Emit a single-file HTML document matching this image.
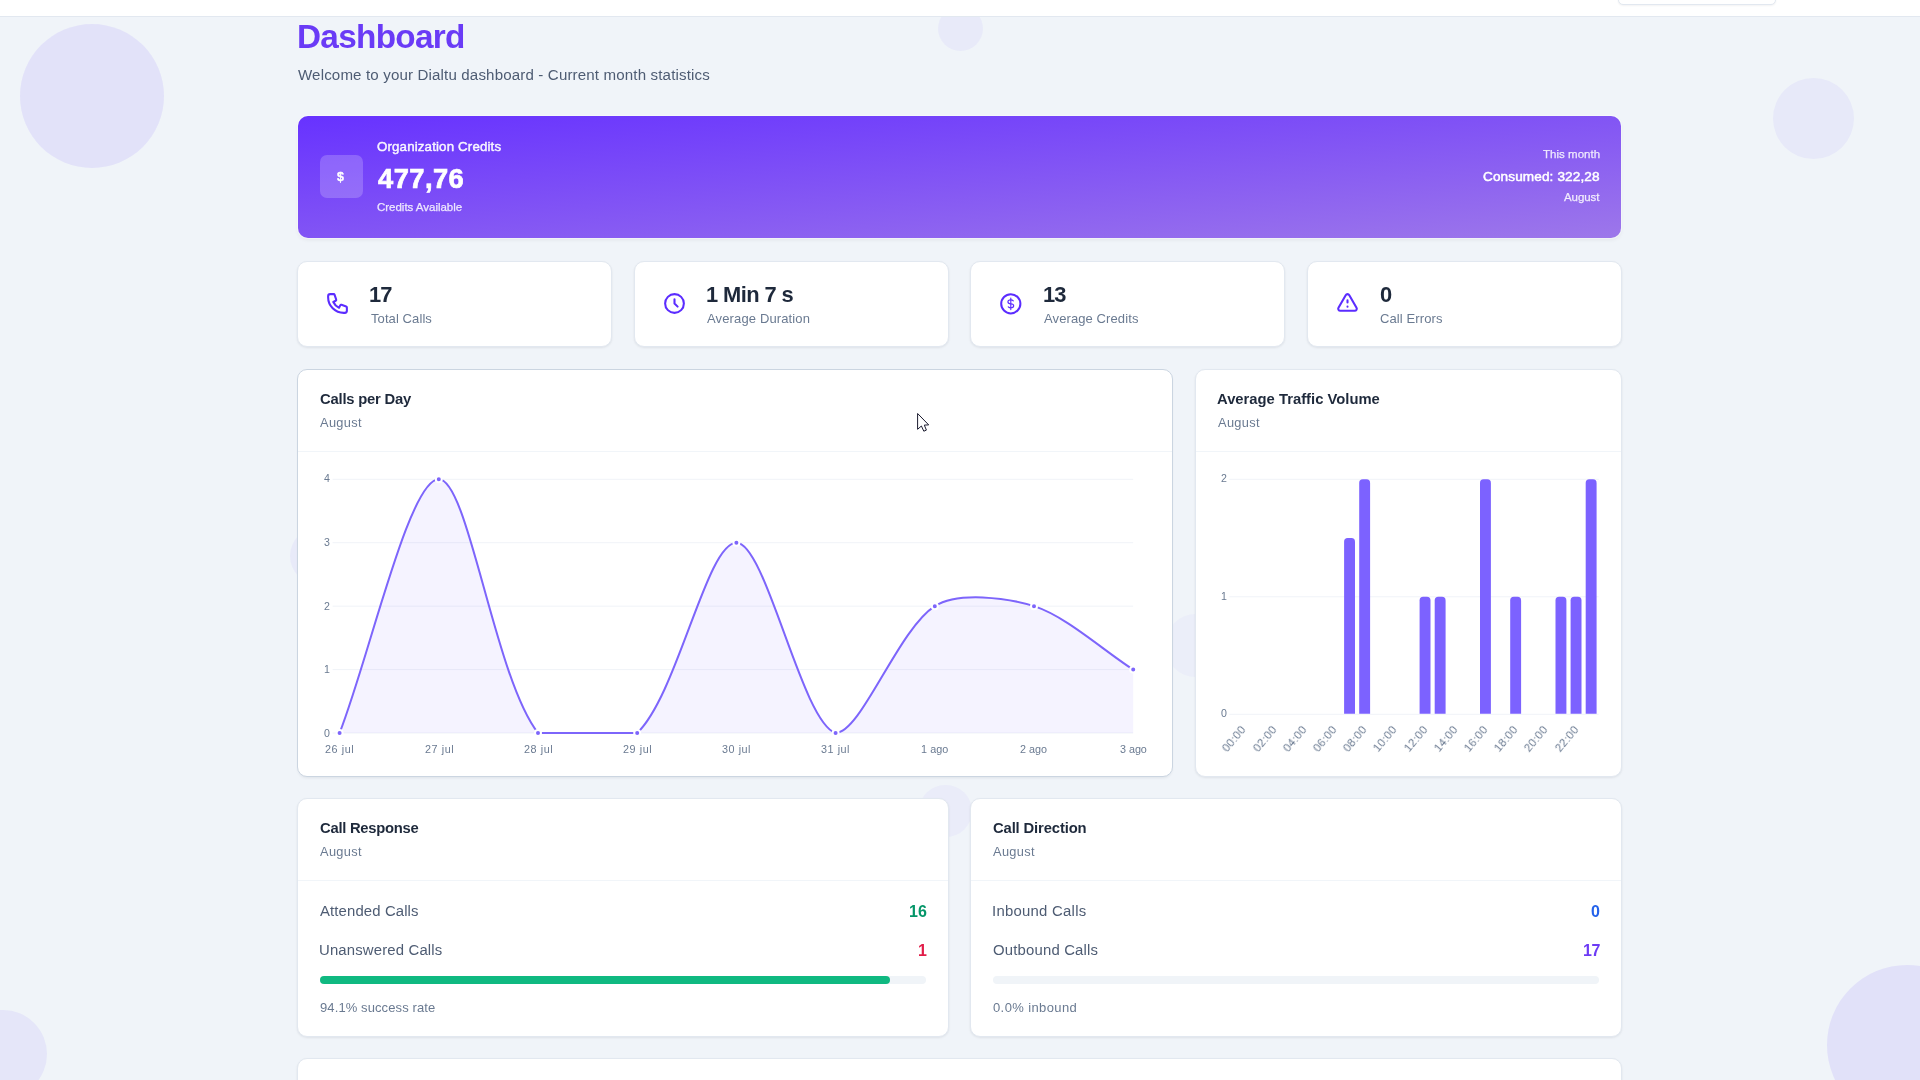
<!DOCTYPE html>
<html><head><meta charset="utf-8"><title>Dashboard</title><style>
*{box-sizing:border-box;margin:0;padding:0}
html,body{width:1920px;height:1080px;overflow:hidden;background:#f0f4f9;font-family:"Liberation Sans",sans-serif}
body{position:relative}
.t{position:absolute;white-space:nowrap;line-height:1;font-weight:400;will-change:transform}
.rl{position:absolute;white-space:nowrap;line-height:1;color:#6a7a91;transform-origin:100% 50%;transform:rotate(-50deg);will-change:transform}
.c{position:absolute;border-radius:50%}
.top{position:absolute;left:0;top:0;width:1920px;height:17px;background:#fff;border-bottom:1px solid #e2e8f0}
.btn{position:absolute;left:1618px;top:-20px;width:158px;height:25px;border:1px solid #e2e8f0;border-radius:5px;background:#fff;box-shadow:0 1px 2px rgba(15,23,42,.05)}
.card{position:absolute;background:#fff;border:1px solid #e2e8f0;border-radius:10px;box-shadow:0 1px 3px rgba(15,23,42,.05),0 1px 2px rgba(15,23,42,.03)}
.hov{border-color:#cbd5e1;box-shadow:0 2px 3px -1px rgba(15,23,42,.08)}
.banner{position:absolute;border-radius:10px;background:linear-gradient(to bottom right,#6732ff,#9d77ea);box-shadow:0 0 0 1px rgba(255,255,255,.45),0 2px 4px rgba(15,23,42,.06)}
.ibox{position:absolute;border-radius:7px;background:rgba(255,255,255,.2)}
.hl{position:absolute;height:1px}
.track{position:absolute;border-radius:4px;background:#f0f4f8}
.fill{position:absolute;border-radius:4px;background:#10b981}
.ic{position:absolute}
svg.ch{position:absolute;left:0;top:0}
</style></head><body>
<div class="c" style="left:20.0px;top:24.0px;width:144.0px;height:144.0px;background:rgba(108,71,255,0.1)"></div><div class="c" style="left:937.5px;top:5.8px;width:45.0px;height:45.0px;background:rgba(108,71,255,0.055)"></div><div class="c" style="left:1773.0px;top:78.0px;width:81.0px;height:81.0px;background:rgba(108,71,255,0.06)"></div><div class="c" style="left:290.0px;top:527.0px;width:58.0px;height:58.0px;background:rgba(108,71,255,0.055)"></div><div class="c" style="left:1164.6px;top:614.1px;width:62.8px;height:62.8px;background:rgba(108,71,255,0.033)"></div><div class="c" style="left:918.9px;top:784.6px;width:52.8px;height:52.8px;background:rgba(108,71,255,0.042)"></div><div class="c" style="left:-41.0px;top:1010.0px;width:88.0px;height:88.0px;background:rgba(108,71,255,0.078)"></div><div class="c" style="left:1827.0px;top:965.0px;width:160.0px;height:160.0px;background:rgba(108,71,255,0.11)"></div>
<div class="top"></div><div class="btn"></div>
<div class="banner" style="left:298.00px;top:116.00px;width:1323.00px;height:122.00px;"></div><div class="ibox" style="left:320.00px;top:155.00px;width:43.00px;height:43.00px;"></div><div class="card" style="left:297.00px;top:261.00px;width:315.00px;height:86.00px;"></div><div class="card" style="left:634.00px;top:261.00px;width:315.00px;height:86.00px;"></div><div class="card" style="left:970.00px;top:261.00px;width:315.00px;height:86.00px;"></div><div class="card" style="left:1307.00px;top:261.00px;width:315.00px;height:86.00px;"></div><div class="card hov" style="left:297.00px;top:369.00px;width:876.00px;height:408.00px;"></div><div class="card" style="left:1195.00px;top:369.00px;width:427.00px;height:408.00px;"></div><div class="card" style="left:297.00px;top:798.00px;width:652.00px;height:239.00px;"></div><div class="card" style="left:970.00px;top:798.00px;width:652.00px;height:239.00px;"></div><div class="card" style="left:297.00px;top:1058.00px;width:1325.00px;height:142.00px;"></div><div class="hl" style="left:298.00px;top:451px;width:874.00px;background:#f1f5f9"></div><div class="hl" style="left:1196.00px;top:451px;width:425.00px;background:#f1f5f9"></div><div class="hl" style="left:298.00px;top:880px;width:650.00px;background:#f1f5f9"></div><div class="hl" style="left:971.00px;top:880px;width:650.00px;background:#f1f5f9"></div><div class="track" style="left:320.00px;top:976.00px;width:606.00px;height:8.00px;"></div><div class="fill" style="left:320.00px;top:976.00px;width:570.00px;height:8.00px;"></div><div class="track" style="left:993.00px;top:976.00px;width:606.00px;height:8.00px;"></div>
<svg class="ch" width="1920" height="1080" viewBox="0 0 1920 1080"><line x1="332.6" x2="1133.2" y1="733.00" y2="733.00" stroke="#f0f3f8" stroke-width="1"/><line x1="332.6" x2="1133.2" y1="669.58" y2="669.58" stroke="#f0f3f8" stroke-width="1"/><line x1="332.6" x2="1133.2" y1="606.15" y2="606.15" stroke="#f0f3f8" stroke-width="1"/><line x1="332.6" x2="1133.2" y1="542.73" y2="542.73" stroke="#f0f3f8" stroke-width="1"/><line x1="332.6" x2="1133.2" y1="479.30" y2="479.30" stroke="#f0f3f8" stroke-width="1"/><path d="M339.60 733.00 C369.36 656.89 409.04 479.30 438.80 479.30 C468.56 479.30 494.37 677.21 538.00 733.00 C553.89 733.00 618.38 733.00 637.20 733.00 C677.90 693.96 706.64 542.73 736.40 542.73 C766.16 542.73 801.60 722.13 835.60 733.00 C861.12 733.00 897.97 629.70 934.80 606.15 C957.49 591.64 1006.78 597.45 1034.00 606.15 C1066.30 616.48 1103.44 650.55 1133.20 669.58 L1133.20 733.00 L339.60 733.00 Z" fill="rgba(124,92,252,.075)"/><path d="M339.60 733.00 C369.36 656.89 409.04 479.30 438.80 479.30 C468.56 479.30 494.37 677.21 538.00 733.00 C553.89 733.00 618.38 733.00 637.20 733.00 C677.90 693.96 706.64 542.73 736.40 542.73 C766.16 542.73 801.60 722.13 835.60 733.00 C861.12 733.00 897.97 629.70 934.80 606.15 C957.49 591.64 1006.78 597.45 1034.00 606.15 C1066.30 616.48 1103.44 650.55 1133.20 669.58" fill="none" stroke="#7d65fb" stroke-width="2" stroke-linejoin="round" stroke-linecap="butt"/><circle cx="339.60" cy="733.00" r="3" fill="#7d65fb" stroke="#fff" stroke-width="2"/><circle cx="438.80" cy="479.30" r="3" fill="#7d65fb" stroke="#fff" stroke-width="2"/><circle cx="538.00" cy="733.00" r="3" fill="#7d65fb" stroke="#fff" stroke-width="2"/><circle cx="637.20" cy="733.00" r="3" fill="#7d65fb" stroke="#fff" stroke-width="2"/><circle cx="736.40" cy="542.73" r="3" fill="#7d65fb" stroke="#fff" stroke-width="2"/><circle cx="835.60" cy="733.00" r="3" fill="#7d65fb" stroke="#fff" stroke-width="2"/><circle cx="934.80" cy="606.15" r="3" fill="#7d65fb" stroke="#fff" stroke-width="2"/><circle cx="1034.00" cy="606.15" r="3" fill="#7d65fb" stroke="#fff" stroke-width="2"/><circle cx="1133.20" cy="669.58" r="3" fill="#7d65fb" stroke="#fff" stroke-width="2"/><line x1="1229.3" x2="1598.7" y1="714.30" y2="714.30" stroke="#f0f3f8" stroke-width="1"/><line x1="1229.3" x2="1598.7" y1="596.80" y2="596.80" stroke="#f0f3f8" stroke-width="1"/><line x1="1229.3" x2="1598.7" y1="479.30" y2="479.30" stroke="#f0f3f8" stroke-width="1"/><path d="M1344.10 713.70 V541.65 Q1344.10 538.05 1347.70 538.05 H1351.40 Q1355.00 538.05 1355.00 541.65 V713.70 Z" fill="#7c62ff"/><path d="M1359.20 713.70 V482.90 Q1359.20 479.30 1362.80 479.30 H1366.50 Q1370.10 479.30 1370.10 482.90 V713.70 Z" fill="#7c62ff"/><path d="M1419.60 713.70 V600.40 Q1419.60 596.80 1423.20 596.80 H1426.90 Q1430.50 596.80 1430.50 600.40 V713.70 Z" fill="#7c62ff"/><path d="M1434.70 713.70 V600.40 Q1434.70 596.80 1438.30 596.80 H1442.00 Q1445.60 596.80 1445.60 600.40 V713.70 Z" fill="#7c62ff"/><path d="M1480.00 713.70 V482.90 Q1480.00 479.30 1483.60 479.30 H1487.30 Q1490.90 479.30 1490.90 482.90 V713.70 Z" fill="#7c62ff"/><path d="M1510.20 713.70 V600.40 Q1510.20 596.80 1513.80 596.80 H1517.50 Q1521.10 596.80 1521.10 600.40 V713.70 Z" fill="#7c62ff"/><path d="M1555.50 713.70 V600.40 Q1555.50 596.80 1559.10 596.80 H1562.80 Q1566.40 596.80 1566.40 600.40 V713.70 Z" fill="#7c62ff"/><path d="M1570.60 713.70 V600.40 Q1570.60 596.80 1574.20 596.80 H1577.90 Q1581.50 596.80 1581.50 600.40 V713.70 Z" fill="#7c62ff"/><path d="M1585.70 713.70 V482.90 Q1585.70 479.30 1589.30 479.30 H1593.00 Q1596.60 479.30 1596.60 482.90 V713.70 Z" fill="#7c62ff"/></svg>
<svg class="ic" style="left:325.10px;top:291.00px" width="25" height="25" viewBox="0 0 24 24" fill="none" stroke="#5b2cff" stroke-width="2" stroke-linecap="round" stroke-linejoin="round"><path d="M3 5a2 2 0 012-2h3.28a1 1 0 01.948.684l1.498 4.493a1 1 0 01-.502 1.21l-2.257 1.13a11.042 11.042 0 005.516 5.516l1.13-2.257a1 1 0 011.21-.502l4.493 1.498a1 1 0 01.684.949V19a2 2 0 01-2 2h-1C9.716 21 3 14.284 3 6V5z"/></svg><svg class="ic" style="left:662.00px;top:291.00px" width="25" height="25" viewBox="0 0 24 24" fill="none" stroke="#5b2cff" stroke-width="2" stroke-linecap="round" stroke-linejoin="round"><path d="M12 8v4l3 3m6-3a9 9 0 11-18 0 9 9 0 0118 0z"/></svg><svg class="ic" style="left:998.00px;top:290.60px" width="25.6" height="25.6" viewBox="0 0 24 24" fill="none" stroke="#5b2cff" stroke-linecap="round" stroke-linejoin="round"><circle cx="12" cy="12" r="9" stroke-width="1.9"/><g transform="translate(12 12) scale(.9 .93) translate(-12 -12)" stroke-width="1.2"><path d="M12 8c-1.657 0-3 .895-3 2s1.343 2 3 2 3 .895 3 2-1.343 2-3 2m0-8c1.11 0 2.08.402 2.599 1M12 16c-1.11 0-2.08-.402-2.599-1"/><path d="M12 6.2v11.6"/></g></svg><svg class="ic" style="left:1335.00px;top:291.00px" width="25" height="25" viewBox="0 0 24 24" fill="none" stroke="#5b2cff" stroke-width="2" stroke-linecap="round" stroke-linejoin="round"><path d="M12 9v2m0 4h.01m-6.938 4h13.856c1.54 0 2.502-1.667 1.732-3L13.732 4c-.77-1.333-2.694-1.333-3.464 0L3.34 16c-.77 1.333.192 3 1.732 3z"/></svg>
<div class="t" style="left:296.70px;top:20.00px;font-size:33.30px;color:#6a3bf6;font-weight:700;letter-spacing:-0.691px;">Dashboard</div><div class="t" style="left:297.74px;top:67.00px;font-size:15.10px;color:#4e5c73;letter-spacing:0.147px;">Welcome to your Dialtu dashboard - Current month statistics</div><div class="t" style="left:376.97px;top:140.00px;font-size:13.30px;color:rgba(255,255,255,.92);letter-spacing:0.151px;-webkit-text-stroke:0.45px rgba(255,255,255,.92);">Organization Credits</div><div class="t" style="left:377.89px;top:165.00px;font-size:27.30px;color:#fff;font-weight:700;letter-spacing:0.456px;-webkit-text-stroke:0.7px #fff;">477,76</div><div class="t" style="left:377.12px;top:202.00px;font-size:11.50px;color:rgba(255,255,255,.82);letter-spacing:-0.017px;-webkit-text-stroke:0.25px rgba(255,255,255,.82);">Credits Available</div><div class="t" style="left:1542.65px;top:149.00px;font-size:11.50px;color:rgba(255,255,255,.82);letter-spacing:0.023px;-webkit-text-stroke:0.25px rgba(255,255,255,.82);">This month</div><div class="t" style="left:1483.12px;top:170.00px;font-size:13.60px;color:#fff;letter-spacing:0.110px;-webkit-text-stroke:0.5px #fff;">Consumed: 322,28</div><div class="t" style="left:1563.58px;top:192.00px;font-size:11.50px;color:rgba(255,255,255,.82);letter-spacing:-0.059px;-webkit-text-stroke:0.25px rgba(255,255,255,.82);">August</div><div class="t" style="left:369.34px;top:284.00px;font-size:21.90px;color:#1e293b;font-weight:700;letter-spacing:-1.000px;">17</div><div class="t" style="left:370.71px;top:312.00px;font-size:13.00px;color:#6a7a91;letter-spacing:0.089px;">Total Calls</div><div class="t" style="left:706.14px;top:284.00px;font-size:21.90px;color:#1e293b;font-weight:700;letter-spacing:-0.606px;">1 Min 7 s</div><div class="t" style="left:707.17px;top:312.00px;font-size:13.00px;color:#6a7a91;letter-spacing:0.135px;">Average Duration</div><div class="t" style="left:1042.74px;top:284.00px;font-size:21.90px;color:#1e293b;font-weight:700;letter-spacing:-0.928px;">13</div><div class="t" style="left:1043.87px;top:312.00px;font-size:13.00px;color:#6a7a91;letter-spacing:0.101px;">Average Credits</div><div class="t" style="left:1379.90px;top:284.00px;font-size:21.90px;color:#1e293b;font-weight:700;">0</div><div class="t" style="left:1379.75px;top:312.00px;font-size:13.00px;color:#6a7a91;letter-spacing:0.102px;">Call Errors</div><div class="t" style="left:319.59px;top:392.00px;font-size:14.80px;color:#1e293b;font-weight:700;letter-spacing:-0.208px;">Calls per Day</div><div class="t" style="left:320.37px;top:417.00px;font-size:12.80px;color:#6a7a91;letter-spacing:0.354px;">August</div><div class="t" style="left:1217.44px;top:392.00px;font-size:14.80px;color:#1e293b;font-weight:700;">Average Traffic Volume</div><div class="t" style="left:1217.97px;top:417.00px;font-size:12.80px;color:#6a7a91;letter-spacing:0.354px;">August</div><div class="t" style="left:319.79px;top:821.00px;font-size:14.80px;color:#1e293b;font-weight:700;letter-spacing:-0.265px;">Call Response</div><div class="t" style="left:320.37px;top:846.00px;font-size:12.80px;color:#6a7a91;letter-spacing:0.354px;">August</div><div class="t" style="left:320.47px;top:904.00px;font-size:14.90px;color:#4e5c73;letter-spacing:0.127px;">Attended Calls</div><div class="t" style="left:319.45px;top:943.00px;font-size:14.90px;color:#4e5c73;letter-spacing:0.158px;">Unanswered Calls</div><div class="t" style="left:908.76px;top:904.00px;font-size:16.00px;color:#059669;font-weight:700;letter-spacing:0.010px;">16</div><div class="t" style="left:917.54px;top:943.00px;font-size:16.00px;color:#e11d48;font-weight:700;">1</div><div class="t" style="left:319.80px;top:1001.00px;font-size:13.00px;color:#6a7a91;letter-spacing:0.102px;">94.1% success rate</div><div class="t" style="left:992.59px;top:821.00px;font-size:14.80px;color:#1e293b;font-weight:700;letter-spacing:-0.137px;">Call Direction</div><div class="t" style="left:993.17px;top:846.00px;font-size:12.80px;color:#6a7a91;letter-spacing:0.354px;">August</div><div class="t" style="left:991.93px;top:904.00px;font-size:14.90px;color:#4e5c73;letter-spacing:0.258px;">Inbound Calls</div><div class="t" style="left:992.50px;top:943.00px;font-size:14.90px;color:#4e5c73;letter-spacing:0.179px;">Outbound Calls</div><div class="t" style="left:1590.94px;top:904.00px;font-size:16.00px;color:#2563eb;font-weight:700;">0</div><div class="t" style="left:1582.61px;top:943.00px;font-size:16.00px;color:#6d3bf5;font-weight:700;letter-spacing:-0.512px;">17</div><div class="t" style="left:992.69px;top:1001.00px;font-size:13.00px;color:#6a7a91;letter-spacing:0.394px;">0.0% inbound</div><div class="t" style="left:323.91px;top:728.00px;font-size:10.60px;color:#6a7a91;">0</div><div class="t" style="left:324.02px;top:664.00px;font-size:10.60px;color:#6a7a91;">1</div><div class="t" style="left:324.04px;top:601.00px;font-size:10.60px;color:#6a7a91;">2</div><div class="t" style="left:323.96px;top:537.00px;font-size:10.60px;color:#6a7a91;">3</div><div class="t" style="left:323.81px;top:473.00px;font-size:10.60px;color:#6a7a91;">4</div><div class="t" style="left:325.36px;top:744.00px;font-size:10.80px;color:#6a7a91;letter-spacing:0.568px;">26 jul</div><div class="t" style="left:424.56px;top:744.00px;font-size:10.80px;color:#6a7a91;letter-spacing:0.568px;">27 jul</div><div class="t" style="left:523.76px;top:744.00px;font-size:10.80px;color:#6a7a91;letter-spacing:0.568px;">28 jul</div><div class="t" style="left:622.96px;top:744.00px;font-size:10.80px;color:#6a7a91;letter-spacing:0.568px;">29 jul</div><div class="t" style="left:722.29px;top:744.00px;font-size:10.80px;color:#6a7a91;letter-spacing:0.542px;">30 jul</div><div class="t" style="left:821.49px;top:744.00px;font-size:10.80px;color:#6a7a91;letter-spacing:0.542px;">31 jul</div><div class="t" style="left:920.98px;top:744.00px;font-size:10.80px;color:#6a7a91;letter-spacing:0.061px;">1 ago</div><div class="t" style="left:1020.46px;top:744.00px;font-size:10.80px;color:#6a7a91;letter-spacing:-0.010px;">2 ago</div><div class="t" style="left:1119.79px;top:744.00px;font-size:10.80px;color:#6a7a91;letter-spacing:-0.042px;">3 ago</div><div class="t" style="left:1220.91px;top:708.00px;font-size:10.60px;color:#6a7a91;">0</div><div class="t" style="left:1221.02px;top:591.00px;font-size:10.60px;color:#6a7a91;">1</div><div class="t" style="left:1221.04px;top:473.00px;font-size:10.60px;color:#6a7a91;">2</div>
<div class="rl" style="right:675.85px;top:722.35px;font-size:11.3px;letter-spacing:.3px">00:00</div><div class="rl" style="right:645.65px;top:722.35px;font-size:11.3px;letter-spacing:.3px">02:00</div><div class="rl" style="right:615.45px;top:722.35px;font-size:11.3px;letter-spacing:.3px">04:00</div><div class="rl" style="right:585.25px;top:722.35px;font-size:11.3px;letter-spacing:.3px">06:00</div><div class="rl" style="right:555.05px;top:722.35px;font-size:11.3px;letter-spacing:.3px">08:00</div><div class="rl" style="right:524.85px;top:722.35px;font-size:11.3px;letter-spacing:.3px">10:00</div><div class="rl" style="right:494.65px;top:722.35px;font-size:11.3px;letter-spacing:.3px">12:00</div><div class="rl" style="right:464.45px;top:722.35px;font-size:11.3px;letter-spacing:.3px">14:00</div><div class="rl" style="right:434.25px;top:722.35px;font-size:11.3px;letter-spacing:.3px">16:00</div><div class="rl" style="right:404.05px;top:722.35px;font-size:11.3px;letter-spacing:.3px">18:00</div><div class="rl" style="right:373.85px;top:722.35px;font-size:11.3px;letter-spacing:.3px">20:00</div><div class="rl" style="right:343.65px;top:722.35px;font-size:11.3px;letter-spacing:.3px">22:00</div>
<div class="t" style="left:337.2px;top:170.6px;font-size:12.4px;font-weight:700;color:#fff;-webkit-text-stroke:.35px #fff">$</div>
<svg style="position:absolute;left:0;top:0" width="1920" height="1080" viewBox="0 0 1920 1080"><path d="M917.6 413.5 V429.3 L921.4 426.0 L923.8 431.2 L926.4 430.1 L924.3 425.1 L928.7 424.9 Z" fill="#fff" stroke="#1a1a2e" stroke-width="1" stroke-linejoin="round"/></svg>
</body></html>
